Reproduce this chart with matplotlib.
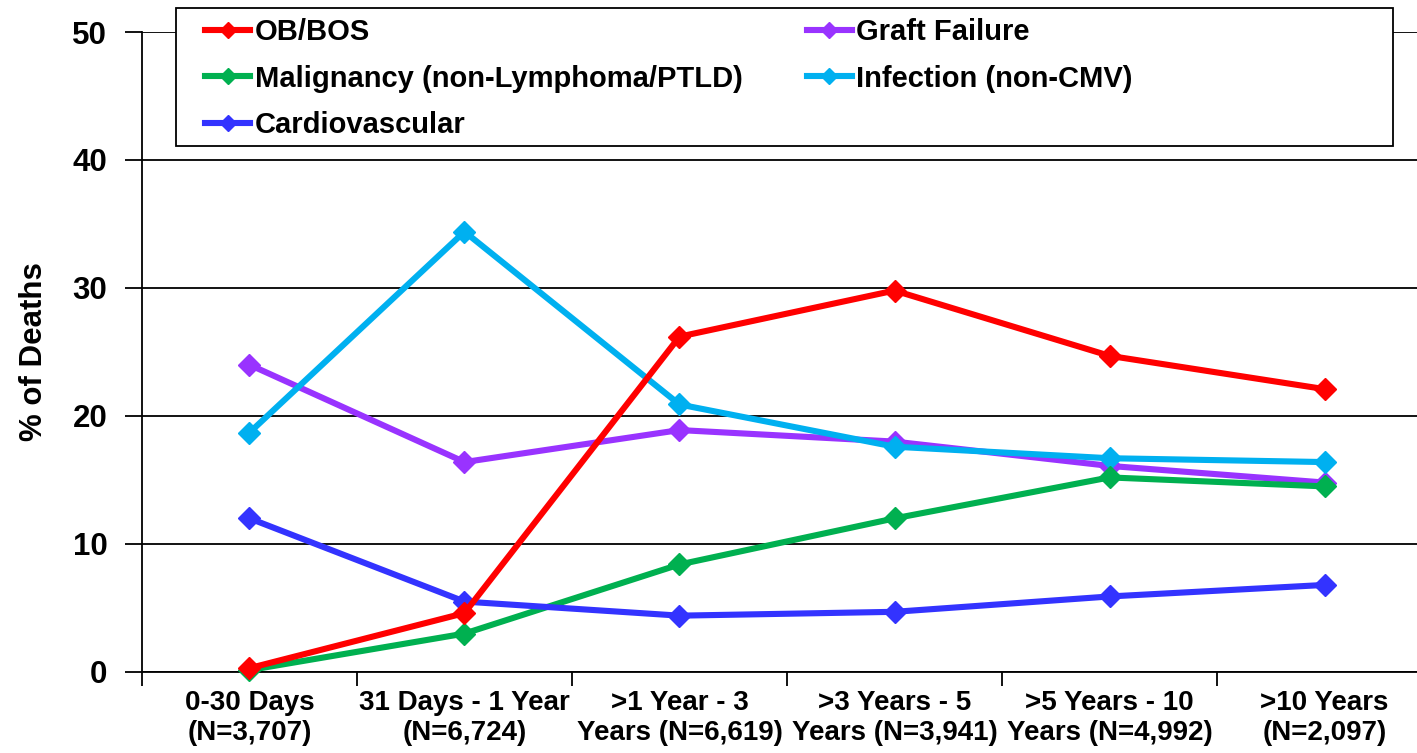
import matplotlib
matplotlib.use("Agg")
import matplotlib.pyplot as plt
from matplotlib.patches import Rectangle
import numpy as np

plt.rcParams["font.family"] = ["Liberation Sans", "DejaVu Sans"]
plt.rcParams["font.weight"] = "bold"

categories = [
    "0-30 Days\n(N=3,707)",
    "31 Days - 1 Year\n(N=6,724)",
    ">1 Year - 3\nYears (N=6,619)",
    ">3 Years - 5\nYears (N=3,941)",
    ">5 Years - 10\nYears (N=4,992)",
    ">10 Years\n(N=2,097)",
]
ob_bos = [0.3, 4.6, 26.2, 29.8, 24.7, 22.1]
malignancy = [0.15, 3.0, 8.4, 12.0, 15.2, 14.5]
cardiovascular = [12.0, 5.5, 4.4, 4.7, 5.9, 6.8]
graft_failure = [24.0, 16.4, 18.9, 18.0, 16.1, 14.8]
infection = [18.7, 34.4, 20.9, 17.6, 16.7, 16.4]

series = [
    ("OB/BOS", ob_bos, "#FF0000"),
    ("Malignancy (non-Lymphoma/PTLD)", malignancy, "#00B050"),
    ("Cardiovascular", cardiovascular, "#3333FF"),
    ("Graft Failure", graft_failure, "#9933FF"),
    ("Infection (non-CMV)", infection, "#00B0F0"),
]
draw_order = ["Graft Failure", "Infection (non-CMV)", "Malignancy (non-Lymphoma/PTLD)", "Cardiovascular", "OB/BOS"]

fig = plt.figure(figsize=(14.17, 7.53), dpi=100)
ax = fig.add_axes([0.1002, 0.1076, 0.9104, 0.8499])

x = np.arange(len(categories))
handles = {}
for name, vals, color in series:
    z = 3 + draw_order.index(name)
    (h,) = ax.plot(x, vals, color=color, linewidth=4.4, marker="D", markersize=11,
                   label=name, zorder=z, clip_on=False)
    handles[name] = h

ax.set_xlim(-0.5, len(categories) - 0.5)
ax.set_ylim(0, 50)
ax.set_yticks([0, 10, 20, 30, 40, 50])
ax.tick_params(axis="y", labelsize=22.5, length=12, width=1.3, direction="out", pad=13)
ax.yaxis.grid(True, color="black", linewidth=1.3)
ax.set_axisbelow(True)

ax.set_xticks(np.arange(len(categories) + 1) - 0.5)
ax.set_xticklabels([])
ax.tick_params(axis="x", which="major", length=10, width=1.3, direction="out")
ax.set_xticks(x, minor=True)
ax.set_xticklabels(categories, minor=True, fontsize=20, fontweight="bold", linespacing=1.2)
ax.tick_params(axis="x", which="minor", length=0, pad=13)

for side in ["top", "right"]:
    ax.spines[side].set_visible(False)
for side in ["left", "bottom"]:
    ax.spines[side].set_linewidth(1.3)

ax.set_ylabel("% of Deaths", fontsize=22.5, fontweight="bold", labelpad=17)

# legend box (drawn separately so it can span the width of the original)
W, H = 1417, 753
box = Rectangle((176 / W, 1 - 146 / H), (1393 - 176) / W, (146 - 8) / H,
                transform=fig.transFigure, facecolor="white", edgecolor="black",
                linewidth=1.3, zorder=19, clip_on=False)
ax.add_patch(box)

leg = ax.legend(
    [handles[s[0]] for s in series],
    [s[0] for s in series],
    ncol=2,
    loc="upper left",
    bbox_to_anchor=(205 / W, 1 - 18 / H),
    bbox_transform=fig.transFigure,
    fontsize=21,
    frameon=False,
    handlelength=1.55,
    handletextpad=0.15,
    borderpad=0,
    labelspacing=0.64,
    columnspacing=2.2,
    borderaxespad=0,
    markerscale=0.7,
)
leg.set_zorder(20)

fig.savefig("out.png", dpi=100)
